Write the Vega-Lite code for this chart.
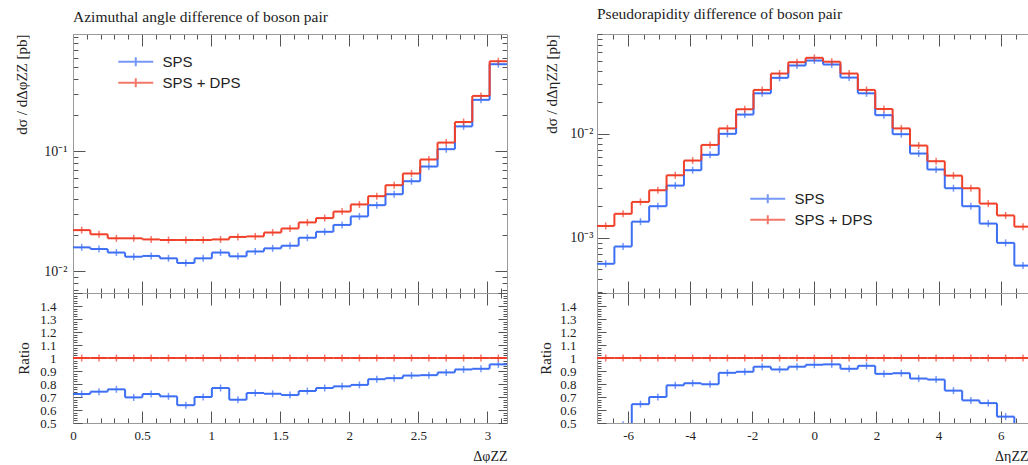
{
"$schema": "https://vega.github.io/schema/vega-lite/v6.json",
"padding": {"left": 14, "top": 7, "right": 0, "bottom": 0},
"datasets": {
"phi": [
{"series":"SPS","lo":0,"hi":0.1257,"mid":0.0628,"v":0.0158,"r":0.723},
{"series":"SPS","lo":0.1257,"hi":0.2513,"mid":0.1885,"v":0.0153,"r":0.741},
{"series":"SPS","lo":0.2513,"hi":0.377,"mid":0.3142,"v":0.0143,"r":0.759},
{"series":"SPS","lo":0.377,"hi":0.5027,"mid":0.4398,"v":0.0132,"r":0.697},
{"series":"SPS","lo":0.5027,"hi":0.6283,"mid":0.5655,"v":0.0134,"r":0.723},
{"series":"SPS","lo":0.6283,"hi":0.754,"mid":0.6912,"v":0.0128,"r":0.705},
{"series":"SPS","lo":0.754,"hi":0.8796,"mid":0.8168,"v":0.0117,"r":0.637},
{"series":"SPS","lo":0.8796,"hi":1.0053,"mid":0.9425,"v":0.0128,"r":0.7},
{"series":"SPS","lo":1.0053,"hi":1.131,"mid":1.0681,"v":0.0143,"r":0.769},
{"series":"SPS","lo":1.131,"hi":1.2566,"mid":1.1938,"v":0.0133,"r":0.679},
{"series":"SPS","lo":1.2566,"hi":1.3823,"mid":1.3195,"v":0.0146,"r":0.731},
{"series":"SPS","lo":1.3823,"hi":1.508,"mid":1.4451,"v":0.0155,"r":0.725},
{"series":"SPS","lo":1.508,"hi":1.6336,"mid":1.5708,"v":0.0163,"r":0.715},
{"series":"SPS","lo":1.6336,"hi":1.7593,"mid":1.6965,"v":0.019,"r":0.746},
{"series":"SPS","lo":1.7593,"hi":1.885,"mid":1.8221,"v":0.0213,"r":0.769},
{"series":"SPS","lo":1.885,"hi":2.0106,"mid":1.9478,"v":0.0243,"r":0.782},
{"series":"SPS","lo":2.0106,"hi":2.1363,"mid":2.0735,"v":0.0286,"r":0.793},
{"series":"SPS","lo":2.1363,"hi":2.2619,"mid":2.1991,"v":0.0355,"r":0.837},
{"series":"SPS","lo":2.2619,"hi":2.3876,"mid":2.3248,"v":0.0438,"r":0.845},
{"series":"SPS","lo":2.3876,"hi":2.5133,"mid":2.4504,"v":0.0562,"r":0.865},
{"series":"SPS","lo":2.5133,"hi":2.6389,"mid":2.5761,"v":0.0745,"r":0.868},
{"series":"SPS","lo":2.6389,"hi":2.7646,"mid":2.7018,"v":0.104,"r":0.889},
{"series":"SPS","lo":2.7646,"hi":2.8903,"mid":2.8274,"v":0.161,"r":0.912},
{"series":"SPS","lo":2.8903,"hi":3.0159,"mid":2.9531,"v":0.268,"r":0.917},
{"series":"SPS","lo":3.0159,"hi":3.1416,"mid":3.0788,"v":0.531,"r":0.951},
{"series":"SPS + DPS","lo":0,"hi":0.1257,"mid":0.0628,"v":0.022,"r":1},
{"series":"SPS + DPS","lo":0.1257,"hi":0.2513,"mid":0.1885,"v":0.0203,"r":1},
{"series":"SPS + DPS","lo":0.2513,"hi":0.377,"mid":0.3142,"v":0.0188,"r":1},
{"series":"SPS + DPS","lo":0.377,"hi":0.5027,"mid":0.4398,"v":0.0188,"r":1},
{"series":"SPS + DPS","lo":0.5027,"hi":0.6283,"mid":0.5655,"v":0.0184,"r":1},
{"series":"SPS + DPS","lo":0.6283,"hi":0.754,"mid":0.6912,"v":0.0182,"r":1},
{"series":"SPS + DPS","lo":0.754,"hi":0.8796,"mid":0.8168,"v":0.0182,"r":1},
{"series":"SPS + DPS","lo":0.8796,"hi":1.0053,"mid":0.9425,"v":0.0182,"r":1},
{"series":"SPS + DPS","lo":1.0053,"hi":1.131,"mid":1.0681,"v":0.0184,"r":1},
{"series":"SPS + DPS","lo":1.131,"hi":1.2566,"mid":1.1938,"v":0.0193,"r":1},
{"series":"SPS + DPS","lo":1.2566,"hi":1.3823,"mid":1.3195,"v":0.0195,"r":1},
{"series":"SPS + DPS","lo":1.3823,"hi":1.508,"mid":1.4451,"v":0.021,"r":1},
{"series":"SPS + DPS","lo":1.508,"hi":1.6336,"mid":1.5708,"v":0.0227,"r":1},
{"series":"SPS + DPS","lo":1.6336,"hi":1.7593,"mid":1.6965,"v":0.0255,"r":1},
{"series":"SPS + DPS","lo":1.7593,"hi":1.885,"mid":1.8221,"v":0.0277,"r":1},
{"series":"SPS + DPS","lo":1.885,"hi":2.0106,"mid":1.9478,"v":0.0314,"r":1},
{"series":"SPS + DPS","lo":2.0106,"hi":2.1363,"mid":2.0735,"v":0.036,"r":1},
{"series":"SPS + DPS","lo":2.1363,"hi":2.2619,"mid":2.1991,"v":0.0422,"r":1},
{"series":"SPS + DPS","lo":2.2619,"hi":2.3876,"mid":2.3248,"v":0.0521,"r":1},
{"series":"SPS + DPS","lo":2.3876,"hi":2.5133,"mid":2.4504,"v":0.0652,"r":1},
{"series":"SPS + DPS","lo":2.5133,"hi":2.6389,"mid":2.5761,"v":0.0853,"r":1},
{"series":"SPS + DPS","lo":2.6389,"hi":2.7646,"mid":2.7018,"v":0.118,"r":1},
{"series":"SPS + DPS","lo":2.7646,"hi":2.8903,"mid":2.8274,"v":0.175,"r":1},
{"series":"SPS + DPS","lo":2.8903,"hi":3.0159,"mid":2.9531,"v":0.289,"r":1},
{"series":"SPS + DPS","lo":3.0159,"hi":3.1416,"mid":3.0788,"v":0.562,"r":1}
],
"eta": [
{"series":"SPS","lo":-7,"hi":-6.44,"mid":-6.72,"v":0.000564,"r":0.43},
{"series":"SPS","lo":-6.44,"hi":-5.88,"mid":-6.16,"v":0.000826,"r":0.486},
{"series":"SPS","lo":-5.88,"hi":-5.32,"mid":-5.6,"v":0.00143,"r":0.645},
{"series":"SPS","lo":-5.32,"hi":-4.76,"mid":-5.04,"v":0.00201,"r":0.7},
{"series":"SPS","lo":-4.76,"hi":-4.2,"mid":-4.48,"v":0.00317,"r":0.79},
{"series":"SPS","lo":-4.2,"hi":-3.64,"mid":-3.92,"v":0.00445,"r":0.806},
{"series":"SPS","lo":-3.64,"hi":-3.08,"mid":-3.36,"v":0.00625,"r":0.798},
{"series":"SPS","lo":-3.08,"hi":-2.52,"mid":-2.8,"v":0.00993,"r":0.886},
{"series":"SPS","lo":-2.52,"hi":-1.96,"mid":-2.24,"v":0.0152,"r":0.894},
{"series":"SPS","lo":-1.96,"hi":-1.4,"mid":-1.68,"v":0.0243,"r":0.933},
{"series":"SPS","lo":-1.4,"hi":-0.84,"mid":-1.12,"v":0.0342,"r":0.912},
{"series":"SPS","lo":-0.84,"hi":-0.28,"mid":-0.56,"v":0.0449,"r":0.933},
{"series":"SPS","lo":-0.28,"hi":0.28,"mid":0,"v":0.0501,"r":0.948},
{"series":"SPS","lo":0.28,"hi":0.84,"mid":0.56,"v":0.0459,"r":0.951},
{"series":"SPS","lo":0.84,"hi":1.4,"mid":1.12,"v":0.0344,"r":0.917},
{"series":"SPS","lo":1.4,"hi":1.96,"mid":1.68,"v":0.0243,"r":0.94},
{"series":"SPS","lo":1.96,"hi":2.52,"mid":2.24,"v":0.015,"r":0.878},
{"series":"SPS","lo":2.52,"hi":3.08,"mid":2.8,"v":0.00986,"r":0.883},
{"series":"SPS","lo":3.08,"hi":3.64,"mid":3.36,"v":0.00643,"r":0.842},
{"series":"SPS","lo":3.64,"hi":4.2,"mid":3.92,"v":0.00452,"r":0.834},
{"series":"SPS","lo":4.2,"hi":4.76,"mid":4.48,"v":0.00299,"r":0.749},
{"series":"SPS","lo":4.76,"hi":5.32,"mid":5.04,"v":0.00201,"r":0.674},
{"series":"SPS","lo":5.32,"hi":5.88,"mid":5.6,"v":0.00137,"r":0.653},
{"series":"SPS","lo":5.88,"hi":6.44,"mid":6.16,"v":0.000895,"r":0.549},
{"series":"SPS","lo":6.44,"hi":7,"mid":6.72,"v":0.000542,"r":0.42},
{"series":"SPS + DPS","lo":-7,"hi":-6.44,"mid":-6.72,"v":0.0013,"r":1},
{"series":"SPS + DPS","lo":-6.44,"hi":-5.88,"mid":-6.16,"v":0.0017,"r":1},
{"series":"SPS + DPS","lo":-5.88,"hi":-5.32,"mid":-5.6,"v":0.00221,"r":1},
{"series":"SPS + DPS","lo":-5.32,"hi":-4.76,"mid":-5.04,"v":0.00286,"r":1},
{"series":"SPS + DPS","lo":-4.76,"hi":-4.2,"mid":-4.48,"v":0.00398,"r":1},
{"series":"SPS + DPS","lo":-4.2,"hi":-3.64,"mid":-3.92,"v":0.00551,"r":1},
{"series":"SPS + DPS","lo":-3.64,"hi":-3.08,"mid":-3.36,"v":0.00778,"r":1},
{"series":"SPS + DPS","lo":-3.08,"hi":-2.52,"mid":-2.8,"v":0.0112,"r":1},
{"series":"SPS + DPS","lo":-2.52,"hi":-1.96,"mid":-2.24,"v":0.0171,"r":1},
{"series":"SPS + DPS","lo":-1.96,"hi":-1.4,"mid":-1.68,"v":0.0262,"r":1},
{"series":"SPS + DPS","lo":-1.4,"hi":-0.84,"mid":-1.12,"v":0.0376,"r":1},
{"series":"SPS + DPS","lo":-0.84,"hi":-0.28,"mid":-0.56,"v":0.0483,"r":1},
{"series":"SPS + DPS","lo":-0.28,"hi":0.28,"mid":0,"v":0.0532,"r":1},
{"series":"SPS + DPS","lo":0.28,"hi":0.84,"mid":0.56,"v":0.0488,"r":1},
{"series":"SPS + DPS","lo":0.84,"hi":1.4,"mid":1.12,"v":0.0376,"r":1},
{"series":"SPS + DPS","lo":1.4,"hi":1.96,"mid":1.68,"v":0.0262,"r":1},
{"series":"SPS + DPS","lo":1.96,"hi":2.52,"mid":2.24,"v":0.0172,"r":1},
{"series":"SPS + DPS","lo":2.52,"hi":3.08,"mid":2.8,"v":0.0112,"r":1},
{"series":"SPS + DPS","lo":3.08,"hi":3.64,"mid":3.36,"v":0.00767,"r":1},
{"series":"SPS + DPS","lo":3.64,"hi":4.2,"mid":3.92,"v":0.00543,"r":1},
{"series":"SPS + DPS","lo":4.2,"hi":4.76,"mid":4.48,"v":0.00395,"r":1},
{"series":"SPS + DPS","lo":4.76,"hi":5.32,"mid":5.04,"v":0.00299,"r":1},
{"series":"SPS + DPS","lo":5.32,"hi":5.88,"mid":5.6,"v":0.00213,"r":1},
{"series":"SPS + DPS","lo":5.88,"hi":6.44,"mid":6.16,"v":0.00164,"r":1},
{"series":"SPS + DPS","lo":6.44,"hi":7,"mid":6.72,"v":0.00128,"r":1}
]
},
"config": {
"font": "Liberation Serif",
"view": {"stroke": null},
"axis": {"labelFont": "Liberation Serif", "labelFontSize": 13, "labelColor": "#222", "titleFont": "Liberation Serif", "titleFontSize": 15, "titleFontWeight": "normal", "titleColor": "#222", "domainColor": "#9a9a9a", "tickColor": "#555", "grid": false, "labelFlush": false, "labelOverlap": false},
"legend": {"labelFont": "Liberation Sans", "labelFontSize": 15, "labelColor": "#222"},
"title": {"font": "Liberation Serif", "fontSize": 15.5, "fontWeight": "normal", "color": "#222"}
},
"spacing": 30,
"resolve": {"scale": {"color": "independent"}, "legend": {"color": "independent"}},
"hconcat": [
{
"spacing": 0,
"bounds": "flush",
"resolve": {"scale": {"color": "independent"}, "legend": {"color": "independent"}},
"vconcat": [
{
"width": 434, "height": 259,
"title": {"text": "Azimuthal angle difference of boson pair", "anchor": "start", "frame": "group", "offset": 4.5},
"data": {"name": "phi"},
"resolve": {"axis": {"x": "independent", "y": "independent"}},
"layer": [
{
"mark": {"type": "rule", "strokeWidth": 2, "clip": true},
"encoding": {
"x": {"field": "lo", "type": "quantitative", "scale": {"domain": [0, 3.1416], "nice": false, "zero": false},
 "axis": {"orient": "bottom", "values": [0,0.1,0.2,0.3,0.4,0.5,0.6,0.7,0.8,0.9,1,1.1,1.2,1.3,1.4,1.5,1.6,1.7,1.8,1.9,2,2.1,2.2,2.3,2.4,2.5,2.6,2.7,2.8,2.9,3,3.1], "labels": false, "title": null,
  "tickSize": {"condition": {"test": "abs(datum.value*2-round(datum.value*2))<0.001", "value": -12}, "value": -5}}},
"x2": {"field": "hi"},
"y": {"field": "v", "type": "quantitative", "scale": {"type": "log", "domain": [0.00658, 0.948], "nice": false},
 "axis": {"orient": "left", "values": [0.007,0.008,0.009,0.01,0.02,0.03,0.04,0.05,0.06,0.07,0.08,0.09,0.1,0.2,0.3,0.4,0.5,0.6,0.7,0.8,0.9],
  "labelExpr": "abs(datum.value-0.1)<1e-6 ? '10⁻¹' : (abs(datum.value-0.01)<1e-7 ? '10⁻²' : '')",
  "labelFontSize": 14, "labelPadding": 18, "title": "dσ / dΔφZZ [pb]", "titleAnchor": "end", "titlePadding": 14,
  "tickSize": {"condition": {"test": "abs(log(datum.value)/LN10-round(log(datum.value)/LN10))<0.001", "value": -12}, "value": -5}}},
"color": {"field": "series", "type": "nominal", "scale": {"domain": ["SPS", "SPS + DPS"], "range": ["#3d6ff5", "#f0402a"]},
 "legend": {"orient": "none", "legendX": 52.75, "legendY": 17.75, "title": null, "symbolType": "M-2,0H2M0,-0.52V0.52", "symbolSize": 306, "symbolStrokeWidth": 2, "padding": 0, "rowPadding": 2, "labelOffset": 16.75}}
}
},
{
"transform": [{"window": [{"op": "lead", "field": "v", "as": "vnext"}], "groupby": ["series"], "sort": [{"field": "lo"}]}, {"filter": "datum.vnext != null"}],
"mark": {"type": "rule", "strokeWidth": 2, "clip": true},
"encoding": {
"x": {"field": "hi", "type": "quantitative", "scale": {"domain": [0, 3.1416], "nice": false, "zero": false},
 "axis": {"orient": "top", "values": [0,0.1,0.2,0.3,0.4,0.5,0.6,0.7,0.8,0.9,1,1.1,1.2,1.3,1.4,1.5,1.6,1.7,1.8,1.9,2,2.1,2.2,2.3,2.4,2.5,2.6,2.7,2.8,2.9,3,3.1], "labels": false, "title": null,
  "tickSize": {"condition": {"test": "abs(datum.value*2-round(datum.value*2))<0.001", "value": -12}, "value": -5}}},
"y": {"field": "v", "type": "quantitative", "scale": {"type": "log", "domain": [0.00658, 0.948], "nice": false},
 "axis": {"orient": "right", "values": [0.007,0.008,0.009,0.01,0.02,0.03,0.04,0.05,0.06,0.07,0.08,0.09,0.1,0.2,0.3,0.4,0.5,0.6,0.7,0.8,0.9], "labels": false, "title": null,
  "tickSize": {"condition": {"test": "abs(log(datum.value)/LN10-round(log(datum.value)/LN10))<0.001", "value": -12}, "value": -5}}},
"y2": {"field": "vnext"},
"color": {"field": "series", "type": "nominal", "scale": {"domain": ["SPS", "SPS + DPS"], "range": ["#3d6ff5", "#f0402a"]},
 "legend": {"orient": "none", "legendX": 52.75, "legendY": 17.75, "title": null, "symbolType": "M-2,0H2M0,-0.52V0.52", "symbolSize": 306, "symbolStrokeWidth": 2, "padding": 0, "rowPadding": 2, "labelOffset": 16.75}}
}
},
{
"mark": {"type": "tick", "orient": "vertical", "size": 7, "thickness": 1.5, "clip": true},
"encoding": {
"x": {"field": "mid", "type": "quantitative", "scale": {"domain": [0, 3.1416], "nice": false, "zero": false}, "axis": null},
"y": {"field": "v", "type": "quantitative", "scale": {"type": "log", "domain": [0.00658, 0.948], "nice": false}, "axis": null},
"color": {"field": "series", "type": "nominal", "scale": {"domain": ["SPS", "SPS + DPS"], "range": ["#3d6ff5", "#f0402a"]},
 "legend": {"orient": "none", "legendX": 52.75, "legendY": 17.75, "title": null, "symbolType": "M-2,0H2M0,-0.52V0.52", "symbolSize": 306, "symbolStrokeWidth": 2, "padding": 0, "rowPadding": 2, "labelOffset": 16.75}}
}
}
]
},
{
"width": 434, "height": 130,
"data": {"name": "phi"},
"resolve": {"axis": {"x": "independent", "y": "independent"}},
"layer": [
{
"mark": {"type": "rule", "strokeWidth": 2, "clip": true},
"encoding": {
"x": {"field": "lo", "type": "quantitative", "scale": {"domain": [0, 3.1416], "nice": false, "zero": false},
 "axis": {"orient": "bottom", "values": [0,0.1,0.2,0.3,0.4,0.5,0.6,0.7,0.8,0.9,1,1.1,1.2,1.3,1.4,1.5,1.6,1.7,1.8,1.9,2,2.1,2.2,2.3,2.4,2.5,2.6,2.7,2.8,2.9,3,3.1],
  "labelExpr": "abs(datum.value*2-round(datum.value*2))<0.001 ? format(datum.value, '~g') : ''",
  "labelPadding": 18, "title": "ΔφZZ", "titleAnchor": "end", "titlePadding": 0, "titleFontSize": 14,
  "tickSize": {"condition": {"test": "abs(datum.value*2-round(datum.value*2))<0.001", "value": -12}, "value": -5}}},
"x2": {"field": "hi"},
"y": {"field": "r", "type": "quantitative", "scale": {"domain": [0.5, 1.5], "nice": false, "zero": false},
 "axis": {"orient": "left", "values": [0.5,0.52,0.54,0.56,0.58,0.6,0.62,0.64,0.66,0.68,0.7,0.72,0.74,0.76,0.78,0.8,0.82,0.84,0.86,0.88,0.9,0.92,0.94,0.96,0.98,1,1.02,1.04,1.06,1.08,1.1,1.12,1.14,1.16,1.18,1.2,1.22,1.24,1.26,1.28,1.3,1.32,1.34,1.36,1.38,1.4,1.42,1.44,1.46,1.48,1.5],
  "labelExpr": "(abs(datum.value*10-round(datum.value*10))<0.001 && datum.value<1.45) ? format(datum.value, '.1~f') : ''",
  "labelPadding": 26, "title": "Ratio", "titlePadding": 8,
  "tickSize": {"condition": {"test": "abs(datum.value*10-round(datum.value*10))<0.001", "value": -9}, "value": -4}}},
"color": {"field": "series", "type": "nominal", "scale": {"domain": ["SPS", "SPS + DPS"], "range": ["#3d6ff5", "#f0402a"]}, "legend": null}
}
},
{
"transform": [{"window": [{"op": "lead", "field": "r", "as": "rnext"}], "groupby": ["series"], "sort": [{"field": "lo"}]}, {"filter": "datum.rnext != null"}],
"mark": {"type": "rule", "strokeWidth": 2, "clip": true},
"encoding": {
"x": {"field": "hi", "type": "quantitative", "scale": {"domain": [0, 3.1416], "nice": false, "zero": false},
 "axis": {"orient": "top", "values": [0,0.1,0.2,0.3,0.4,0.5,0.6,0.7,0.8,0.9,1,1.1,1.2,1.3,1.4,1.5,1.6,1.7,1.8,1.9,2,2.1,2.2,2.3,2.4,2.5,2.6,2.7,2.8,2.9,3,3.1], "labels": false, "title": null,
  "tickSize": {"condition": {"test": "abs(datum.value*2-round(datum.value*2))<0.001", "value": -12}, "value": -5}}},
"y": {"field": "r", "type": "quantitative", "scale": {"domain": [0.5, 1.5], "nice": false, "zero": false},
 "axis": {"orient": "right", "values": [0.5,0.52,0.54,0.56,0.58,0.6,0.62,0.64,0.66,0.68,0.7,0.72,0.74,0.76,0.78,0.8,0.82,0.84,0.86,0.88,0.9,0.92,0.94,0.96,0.98,1,1.02,1.04,1.06,1.08,1.1,1.12,1.14,1.16,1.18,1.2,1.22,1.24,1.26,1.28,1.3,1.32,1.34,1.36,1.38,1.4,1.42,1.44,1.46,1.48,1.5], "labels": false, "title": null,
  "tickSize": {"condition": {"test": "abs(datum.value*10-round(datum.value*10))<0.001", "value": -9}, "value": -4}}},
"y2": {"field": "rnext"},
"color": {"field": "series", "type": "nominal", "scale": {"domain": ["SPS", "SPS + DPS"], "range": ["#3d6ff5", "#f0402a"]}, "legend": null}
}
},
{
"mark": {"type": "tick", "orient": "vertical", "size": 7, "thickness": 1.5, "clip": true},
"encoding": {
"x": {"field": "mid", "type": "quantitative", "scale": {"domain": [0, 3.1416], "nice": false, "zero": false}, "axis": null},
"y": {"field": "r", "type": "quantitative", "scale": {"domain": [0.5, 1.5], "nice": false, "zero": false}, "axis": null},
"color": {"field": "series", "type": "nominal", "scale": {"domain": ["SPS", "SPS + DPS"], "range": ["#3d6ff5", "#f0402a"]}, "legend": null}
}
}
]
}
]
},
{
"spacing": 0,
"bounds": "flush",
"resolve": {"scale": {"color": "independent"}, "legend": {"color": "independent"}},
"vconcat": [
{
"width": 431, "height": 259,
"title": {"text": "Pseudorapidity difference of boson pair", "anchor": "start", "frame": "group", "offset": 4.5},
"data": {"name": "eta"},
"resolve": {"axis": {"x": "independent", "y": "independent"}},
"layer": [
{
"mark": {"type": "rule", "strokeWidth": 2, "clip": true},
"encoding": {
"x": {"field": "lo", "type": "quantitative", "scale": {"domain": [-7, 6.88], "nice": false, "zero": false},
 "axis": {"orient": "bottom", "values": [-7,-6.5,-6,-5.5,-5,-4.5,-4,-3.5,-3,-2.5,-2,-1.5,-1,-0.5,0,0.5,1,1.5,2,2.5,3,3.5,4,4.5,5,5.5,6,6.5], "labels": false, "title": null,
  "tickSize": {"condition": {"test": "abs(datum.value/2-round(datum.value/2))<0.001", "value": -12}, "value": -5}}},
"x2": {"field": "hi"},
"y": {"field": "v", "type": "quantitative", "scale": {"type": "log", "domain": [0.000296, 0.09], "nice": false},
 "axis": {"orient": "left", "values": [0.0003,0.0004,0.0005,0.0006,0.0007,0.0008,0.0009,0.001,0.002,0.003,0.004,0.005,0.006,0.007,0.008,0.009,0.01,0.02,0.03,0.04,0.05,0.06,0.07,0.08,0.09],
  "labelExpr": "abs(datum.value-0.01)<1e-7 ? '10⁻²' : (abs(datum.value-0.001)<1e-8 ? '10⁻³' : '')",
  "labelFontSize": 14, "labelPadding": 16, "title": "dσ / dΔηZZ [pb]", "titleAnchor": "end", "titlePadding": 10,
  "tickSize": {"condition": {"test": "abs(log(datum.value)/LN10-round(log(datum.value)/LN10))<0.001", "value": -12}, "value": -5}}},
"color": {"field": "series", "type": "nominal", "scale": {"domain": ["SPS", "SPS + DPS"], "range": ["#3d6ff5", "#f0402a"]},
 "legend": {"orient": "none", "legendX": 160.75, "legendY": 154.75, "title": null, "symbolType": "M-2,0H2M0,-0.52V0.52", "symbolSize": 306, "symbolStrokeWidth": 2, "padding": 0, "rowPadding": 2, "labelOffset": 16.75}}
}
},
{
"transform": [{"window": [{"op": "lead", "field": "v", "as": "vnext"}], "groupby": ["series"], "sort": [{"field": "lo"}]}, {"filter": "datum.vnext != null"}],
"mark": {"type": "rule", "strokeWidth": 2, "clip": true},
"encoding": {
"x": {"field": "hi", "type": "quantitative", "scale": {"domain": [-7, 6.88], "nice": false, "zero": false},
 "axis": {"orient": "top", "values": [-7,-6.5,-6,-5.5,-5,-4.5,-4,-3.5,-3,-2.5,-2,-1.5,-1,-0.5,0,0.5,1,1.5,2,2.5,3,3.5,4,4.5,5,5.5,6,6.5], "labels": false, "title": null,
  "tickSize": {"condition": {"test": "abs(datum.value/2-round(datum.value/2))<0.001", "value": -12}, "value": -5}}},
"y": {"field": "v", "type": "quantitative", "scale": {"type": "log", "domain": [0.000296, 0.09], "nice": false}, "axis": null},
"y2": {"field": "vnext"},
"color": {"field": "series", "type": "nominal", "scale": {"domain": ["SPS", "SPS + DPS"], "range": ["#3d6ff5", "#f0402a"]},
 "legend": {"orient": "none", "legendX": 160.75, "legendY": 154.75, "title": null, "symbolType": "M-2,0H2M0,-0.52V0.52", "symbolSize": 306, "symbolStrokeWidth": 2, "padding": 0, "rowPadding": 2, "labelOffset": 16.75}}
}
},
{
"mark": {"type": "tick", "orient": "vertical", "size": 7, "thickness": 1.5, "clip": true},
"encoding": {
"x": {"field": "mid", "type": "quantitative", "scale": {"domain": [-7, 6.88], "nice": false, "zero": false}, "axis": null},
"y": {"field": "v", "type": "quantitative", "scale": {"type": "log", "domain": [0.000296, 0.09], "nice": false}, "axis": null},
"color": {"field": "series", "type": "nominal", "scale": {"domain": ["SPS", "SPS + DPS"], "range": ["#3d6ff5", "#f0402a"]},
 "legend": {"orient": "none", "legendX": 160.75, "legendY": 154.75, "title": null, "symbolType": "M-2,0H2M0,-0.52V0.52", "symbolSize": 306, "symbolStrokeWidth": 2, "padding": 0, "rowPadding": 2, "labelOffset": 16.75}}
}
}
]
},
{
"width": 431, "height": 130,
"data": {"name": "eta"},
"resolve": {"axis": {"x": "independent", "y": "independent"}},
"layer": [
{
"mark": {"type": "rule", "strokeWidth": 2, "clip": true},
"encoding": {
"x": {"field": "lo", "type": "quantitative", "scale": {"domain": [-7, 6.88], "nice": false, "zero": false},
 "axis": {"orient": "bottom", "values": [-7,-6.5,-6,-5.5,-5,-4.5,-4,-3.5,-3,-2.5,-2,-1.5,-1,-0.5,0,0.5,1,1.5,2,2.5,3,3.5,4,4.5,5,5.5,6,6.5],
  "labelExpr": "abs(datum.value/2-round(datum.value/2))<0.001 && datum.value > -7 ? '' + datum.value : ''",
  "labelPadding": 18, "title": "ΔηZZ", "titleAnchor": "end", "titlePadding": 0, "titleFontSize": 14,
  "tickSize": {"condition": {"test": "abs(datum.value/2-round(datum.value/2))<0.001", "value": -12}, "value": -5}}},
"x2": {"field": "hi"},
"y": {"field": "r", "type": "quantitative", "scale": {"domain": [0.5, 1.5], "nice": false, "zero": false},
 "axis": {"orient": "left", "values": [0.5,0.52,0.54,0.56,0.58,0.6,0.62,0.64,0.66,0.68,0.7,0.72,0.74,0.76,0.78,0.8,0.82,0.84,0.86,0.88,0.9,0.92,0.94,0.96,0.98,1,1.02,1.04,1.06,1.08,1.1,1.12,1.14,1.16,1.18,1.2,1.22,1.24,1.26,1.28,1.3,1.32,1.34,1.36,1.38,1.4,1.42,1.44,1.46,1.48,1.5],
  "labelExpr": "(abs(datum.value*10-round(datum.value*10))<0.001 && datum.value<1.45) ? format(datum.value, '.1~f') : ''",
  "labelPadding": 30, "title": "Ratio", "titlePadding": 6,
  "tickSize": {"condition": {"test": "abs(datum.value*10-round(datum.value*10))<0.001", "value": -9}, "value": -4}}},
"color": {"field": "series", "type": "nominal", "scale": {"domain": ["SPS", "SPS + DPS"], "range": ["#3d6ff5", "#f0402a"]}, "legend": null}
}
},
{
"transform": [{"window": [{"op": "lead", "field": "r", "as": "rnext"}], "groupby": ["series"], "sort": [{"field": "lo"}]}, {"filter": "datum.rnext != null"}],
"mark": {"type": "rule", "strokeWidth": 2, "clip": true},
"encoding": {
"x": {"field": "hi", "type": "quantitative", "scale": {"domain": [-7, 6.88], "nice": false, "zero": false},
 "axis": {"orient": "top", "values": [-7,-6.5,-6,-5.5,-5,-4.5,-4,-3.5,-3,-2.5,-2,-1.5,-1,-0.5,0,0.5,1,1.5,2,2.5,3,3.5,4,4.5,5,5.5,6,6.5], "labels": false, "title": null,
  "tickSize": {"condition": {"test": "abs(datum.value/2-round(datum.value/2))<0.001", "value": -12}, "value": -5}}},
"y": {"field": "r", "type": "quantitative", "scale": {"domain": [0.5, 1.5], "nice": false, "zero": false}, "axis": null},
"y2": {"field": "rnext"},
"color": {"field": "series", "type": "nominal", "scale": {"domain": ["SPS", "SPS + DPS"], "range": ["#3d6ff5", "#f0402a"]}, "legend": null}
}
},
{
"mark": {"type": "tick", "orient": "vertical", "size": 7, "thickness": 1.5, "clip": true},
"encoding": {
"x": {"field": "mid", "type": "quantitative", "scale": {"domain": [-7, 6.88], "nice": false, "zero": false}, "axis": null},
"y": {"field": "r", "type": "quantitative", "scale": {"domain": [0.5, 1.5], "nice": false, "zero": false}, "axis": null},
"color": {"field": "series", "type": "nominal", "scale": {"domain": ["SPS", "SPS + DPS"], "range": ["#3d6ff5", "#f0402a"]}, "legend": null}
}
}
]
}
]
}
]
}
